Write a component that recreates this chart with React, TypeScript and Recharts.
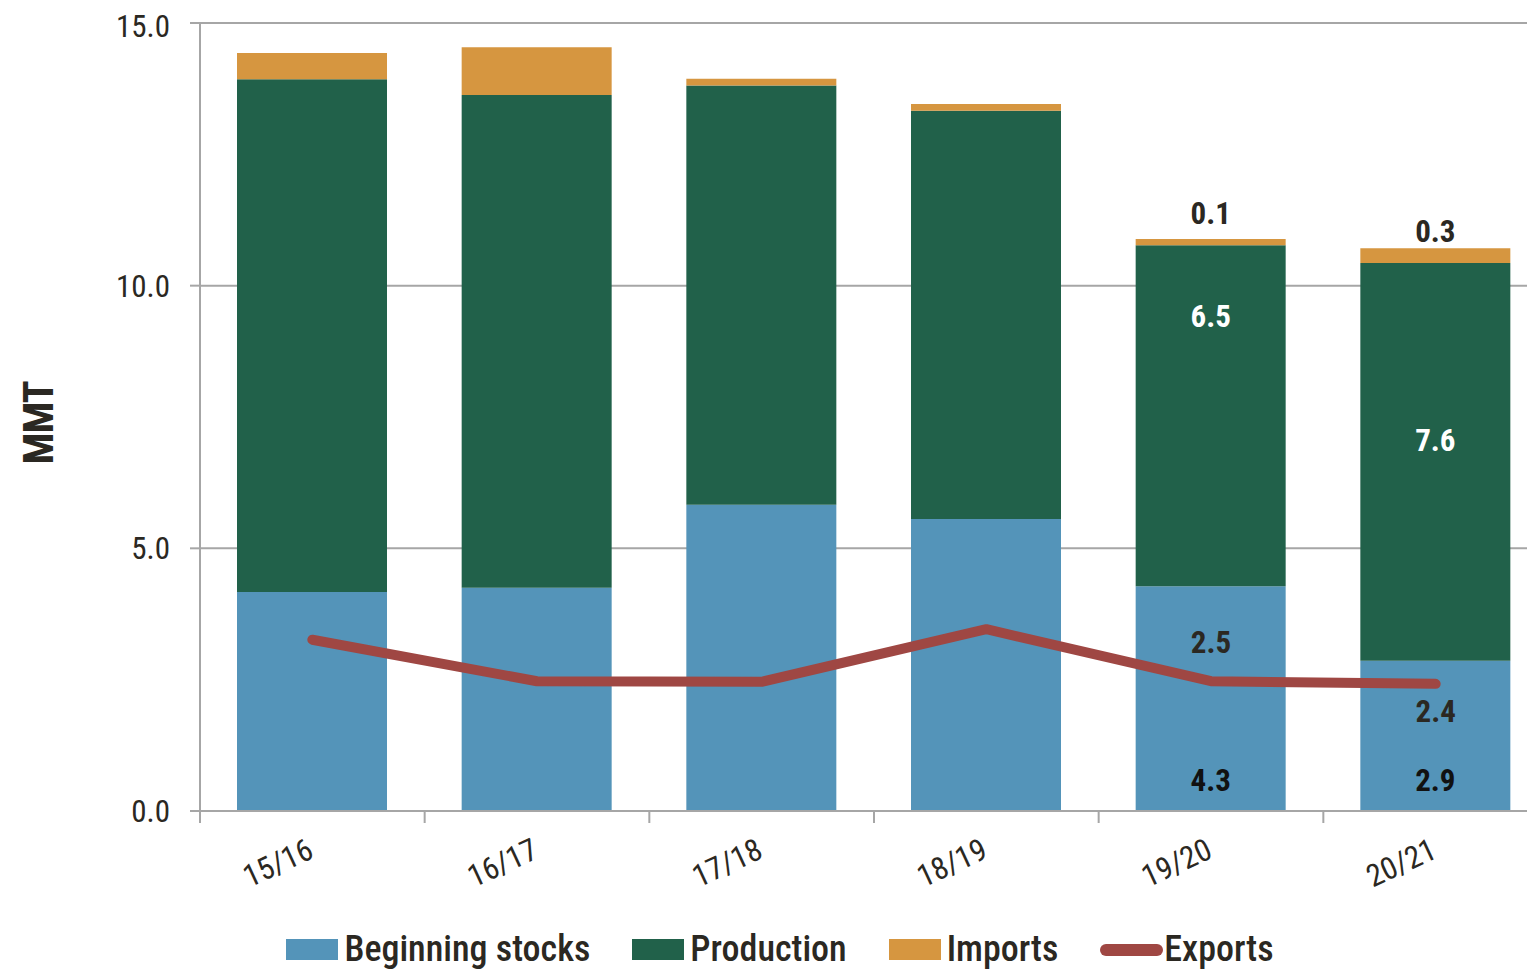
import { ComposedChart, Bar, Line, XAxis, YAxis, CartesianGrid, Legend, LabelList } from "recharts";

const categories = ["15/16", "16/17", "17/18", "18/19", "19/20", "20/21"];
const beginningStocks = [4.17, 4.25, 5.83, 5.56, 4.28, 2.86];
const production = [9.76, 9.38, 7.98, 7.77, 6.49, 7.57];
const imports = [0.5, 0.91, 0.13, 0.13, 0.12, 0.28];
const exportsVals = [3.26, 2.47, 2.46, 3.46, 2.47, 2.42];
const yTicks = [0, 5, 10, 15];
// only the last two seasons carry value labels
const labeled = ["19/20", "20/21"];

const BLUE = "#5494b9";
const GREEN = "#21614a";
const ORANGE = "#d69640";
const RED = "#9f4743";
const GRID = "#a6a6a6";
const INK = "#2b2822";
const FONT = "Roboto, 'Noto Sans', sans-serif";

// label placement tweaks (style only)
const prodLabelPos: Record<string, number> = { "19/20": 0.21, "20/21": 0.445 };
const importLabelDy: Record<string, number> = { "19/20": -25, "20/21": -17 };
const exportLabelDy: Record<string, number> = { "19/20": -39, "20/21": 28 };

const data = categories.map((c, i) => ({
  name: c,
  stocks: beginningStocks[i],
  production: production[i],
  imports: imports[i],
  exports: exportsVals[i],
}));

const txt = {
  fontFamily: FONT,
  fontStretch: "condensed" as const,
};

const XTick = (props: any) => {
  const { x, y, payload, width } = props;
  const band = width / categories.length;
  const left = x - band / 2;
  return (
    <g>
      <line x1={left} y1={y - 8} x2={left} y2={y + 4} stroke={GRID} strokeWidth={2} />
      <text
        x={x + 3}
        y={y + 38}
        textAnchor="end"
        transform={`rotate(-25, ${x + 3}, ${y + 38})`}
        fill={INK}
        fontSize={31}
        style={txt}
      >
        {payload.value}
      </text>
    </g>
  );
};

const valueText = (x: number, y: number, v: number, fill: string) => (
  <text x={x} y={y} textAnchor="middle" dominantBaseline="central" fill={fill} fontSize={31} fontWeight={700} style={txt}>
    {v.toFixed(1)}
  </text>
);

const stocksLabel = (p: any) => {
  if (!labeled.includes(categories[p.index])) return null;
  return valueText(p.x + p.width / 2, p.y + p.height - 31, p.value, "#111");
};
const prodLabel = (p: any) => {
  const c = categories[p.index];
  if (!labeled.includes(c)) return null;
  return valueText(p.x + p.width / 2, p.y + p.height * prodLabelPos[c], p.value, "#fff");
};
const importsLabel = (p: any) => {
  const c = categories[p.index];
  if (!labeled.includes(c)) return null;
  return valueText(p.x + p.width / 2, p.y + importLabelDy[c], p.value, INK);
};
const exportsLabel = (p: any) => {
  const c = categories[p.index];
  if (!labeled.includes(c)) return null;
  return valueText(p.x, p.y + exportLabelDy[c], p.value, INK);
};

const legendItems = [
  { label: "Beginning stocks", color: BLUE, line: false },
  { label: "Production", color: GREEN, line: false },
  { label: "Imports", color: ORANGE, line: false },
  { label: "Exports", color: RED, line: true },
];

const LegendContent = () => (
  <div
    style={{
      height: 41,
      display: "flex",
      justifyContent: "center",
      alignItems: "center",
      paddingLeft: 4,
      gap: 42,
      fontFamily: FONT,
      fontStretch: "condensed",
      fontSize: 36,
      fontWeight: 500,
      color: INK,
    }}
  >
    {legendItems.map((it) => (
      <div key={it.label} style={{ display: "flex", alignItems: "center", gap: it.line ? 1 : 6 }}>
        {it.line ? (
          <span style={{ width: 63, height: 12, borderRadius: 6, background: it.color, display: "inline-block" }} />
        ) : (
          <span style={{ width: 52, height: 21, background: it.color, display: "inline-block" }} />
        )}
        <span style={{ lineHeight: "41px" }}>{it.label}</span>
      </div>
    ))}
  </div>
);

export default function App() {
  return (
    <>
      <style>{"body{overflow:hidden}"}</style>
      <ComposedChart
        width={1540}
        height={962}
        data={data}
        margin={{ top: 15, right: 0, bottom: 0, left: 0 }}
        barSize={150}
      >
        <CartesianGrid horizontal vertical={false} stroke={GRID} strokeWidth={2} />
        <XAxis
          dataKey="name"
          height={118}
          axisLine={{ stroke: GRID, strokeWidth: 2 }}
          tickLine={false}
          tick={<XTick />}
          interval={0}
        />
        <YAxis
          width={192}
          domain={[0, 15]}
          ticks={yTicks}
          tickFormatter={(v: number) => v.toFixed(1)}
          axisLine={{ stroke: GRID, strokeWidth: 2 }}
          tickLine={{ stroke: GRID, strokeWidth: 2 }}
          tickSize={10}
          tickMargin={20}
          tick={{ fill: INK, fontSize: 31, fontFamily: FONT, style: { fontStretch: "condensed" } }}
          label={(p: any) => {
            const vb = p.viewBox;
            const cy = vb.y + vb.height / 2 + 6;
            return (
              <text
                x={30}
                y={cy}
                textAnchor="middle"
                dominantBaseline="central"
                transform={`rotate(-90, 30, ${cy})`}
                fill={INK}
                fontSize={42}
                fontWeight={700}
                letterSpacing={-1}
                style={txt}
              >
                MMT
              </text>
            );
          }}
        />
        <Legend verticalAlign="bottom" content={<LegendContent />} />
        <Bar dataKey="stocks" name="Beginning stocks" stackId="s" fill={BLUE} isAnimationActive={false}>
          <LabelList dataKey="stocks" content={stocksLabel} />
        </Bar>
        <Bar dataKey="production" name="Production" stackId="s" fill={GREEN} isAnimationActive={false}>
          <LabelList dataKey="production" content={prodLabel} />
        </Bar>
        <Bar dataKey="imports" name="Imports" stackId="s" fill={ORANGE} isAnimationActive={false}>
          <LabelList dataKey="imports" content={importsLabel} />
        </Bar>
        <Line
          dataKey="exports"
          name="Exports"
          stroke={RED}
          strokeWidth={10}
          strokeLinecap="round"
          strokeLinejoin="round"
          dot={false}
          activeDot={false}
          isAnimationActive={false}
        >
          <LabelList dataKey="exports" content={exportsLabel} />
        </Line>
      </ComposedChart>
    </>
  );
}
